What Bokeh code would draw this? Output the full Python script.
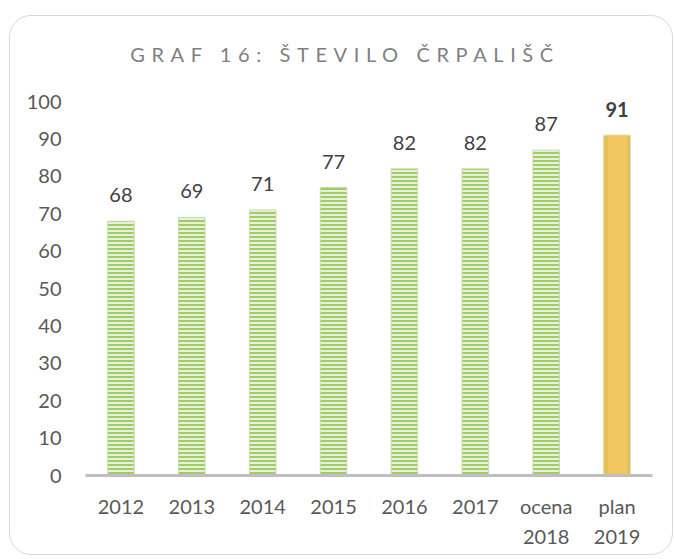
from bokeh.plotting import figure
from bokeh.models import (Range1d, Div, ColumnDataSource, FixedTicker,
                          LinearAxis)
from bokeh.layouts import column
from bokeh.core.properties import value
from bokeh.embed import file_html
from bokeh.resources import INLINE

# ---- data ----
categories = ["2012", "2013", "2014", "2015", "2016", "2017", "ocena 2018", "plan 2019"]
tick_line1 = ["2012", "2013", "2014", "2015", "2016", "2017", "ocena", "plan"]
tick_line2 = ["", "", "", "", "", "", "2018", "2019"]
values = [68, 69, 71, 77, 82, 82, 87, 91]
y_ticks = [0, 10, 20, 30, 40, 50, 60, 70, 80, 90, 100]
title_text = "GRAF 16: ŠTEVILO ČRPALIŠČ"

FONT = "Lato"

# category positions on the x scale (one slot per category)
xpos = list(range(len(categories)))
n_actual = 7
actual_src = ColumnDataSource(dict(x=xpos[:n_actual], y=values[:n_actual],
                                   t=[str(v) for v in values[:n_actual]]))
plan_src = ColumnDataSource(dict(x=xpos[n_actual:], y=values[n_actual:],
                                 t=[str(v) for v in values[n_actual:]]))

p = figure(width=662, height=488,
           x_range=Range1d(-0.5, len(categories) - 0.5),
           y_range=Range1d(0, 100),
           output_backend="svg", toolbar_location=None,
           min_border_left=75, min_border_right=20,
           min_border_top=35, min_border_bottom=79)
p.outline_line_color = None
p.background_fill_color = "white"
p.border_fill_color = None
p.xgrid.grid_line_color = None
p.ygrid.grid_line_color = None

# green striped bars
p.vbar(x="x", top="y", width=0.375, source=actual_src,
       fill_color="#e6f1da", line_color="#c8deb0", line_width=1,
       hatch_pattern="horizontal_line", hatch_color="#a2ca68",
       hatch_scale=4, hatch_weight=2)
# plan bar (soft gold)
p.vbar(x="x", top="y", width=0.38, source=plan_src,
       fill_color="#e3c158", line_color="#d3e2b8", line_width=1)
p.vbar(x="x", top="y", width=0.27, source=plan_src,
       fill_color="#f3c862", line_color=None, fill_alpha=0.9)

# value labels
p.text(x="x", y="y", text="t", source=actual_src, text_align="center",
       text_baseline="alphabetic", y_offset=-26,
       text_font=value(FONT), text_font_size="20px", text_color="#404040")
p.text(x="x", y="y", text="t", source=plan_src, text_align="center",
       text_baseline="alphabetic", y_offset=-26,
       text_font=value(FONT), text_font_size="20px", text_color="#404040",
       text_font_style="bold")

# x axis (first label row)
xa = p.xaxis[0]
xa.ticker = FixedTicker(ticks=xpos)
xa.axis_line_color = "#bfbfbf"
xa.axis_line_width = 3
xa.major_tick_line_color = None
xa.minor_tick_line_color = None
xa.major_label_text_font = FONT
xa.major_label_text_font_size = "20px"
xa.major_label_text_color = "#595959"
xa.major_label_standoff = 12
xa.major_label_overrides = dict(zip(xpos, tick_line1))

# second label row (only where a second line exists)
second = [i for i, t in enumerate(tick_line2) if t]
xa2 = LinearAxis(ticker=FixedTicker(ticks=second),
                 axis_line_color=None, major_tick_line_color=None,
                 minor_tick_line_color=None,
                 major_label_text_font=FONT,
                 major_label_text_font_size="20px",
                 major_label_text_color="#595959",
                 major_label_standoff=3,
                 major_label_overrides={i: tick_line2[i] for i in second})
p.add_layout(xa2, "below")

ya = p.yaxis[0]
ya.ticker = FixedTicker(ticks=y_ticks)
ya.axis_line_color = None
ya.major_tick_line_color = None
ya.minor_tick_line_color = None
ya.major_label_text_font = FONT
ya.major_label_text_font_size = "20px"
ya.major_label_text_color = "#595959"
ya.major_label_standoff = 18

title = Div(text=title_text, width=662, height=24, margin=(26, 0, 0, 0),
            styles={"font-family": FONT, "font-size": "20px",
                    "letter-spacing": "6.6px", "color": "#7f7f7f",
                    "text-align": "center", "padding-left": "8px",
                    "line-height": "24px", "white-space": "nowrap"})

layout = column(title, p, margin=(15, 0, 0, 9), spacing=0,
                styles={"border": "1.5px solid #d9d9d9",
                        "border-radius": "22px",
                        "background-color": "white"})

open("out.html", "w").write(file_html(layout, INLINE))
